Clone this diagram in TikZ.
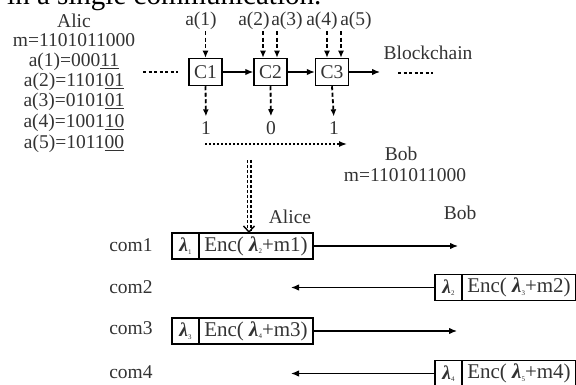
\documentclass[tikz,border=0pt]{standalone}
\usepackage{fontspec}
\setmainfont{Liberation Serif}
\usetikzlibrary{positioning, arrows.meta}
\newcommand{\lam}[1]{\textbf{\textit{λ}}\raisebox{-2.5pt}{\fontsize{7}{7}\selectfont #1}}

\begin{document}
\begin{tikzpicture}[
    x=1pt, y=-1pt,
    every node/.style={font=\fontsize{19.5}{21}\selectfont, text=black!80, inner sep=1pt},
    cbox/.style={rectangle, draw, line width=1.5pt, minimum width=33pt, minimum height=27pt, inner sep=0pt},
    lamcell/.style={rectangle, draw, line width=1.4pt, minimum width=27pt, minimum height=26pt, inner sep=0pt, outer sep=0pt},
    enccell/.style={rectangle, draw, line width=1.4pt, minimum width=114pt, minimum height=26pt, inner sep=0pt, outer sep=0pt, font=\fontsize{21}{22}\selectfont},
    arrow/.style={-{Latex[length=8pt,width=6.5pt]}, line width=1.3pt},
    dasharrow/.style={-{Latex[length=7pt,width=6pt]}, line width=1.8pt, dash pattern=on 4pt off 2.5pt},
    dotarrow/.style={-{Latex[length=8pt,width=6pt]}, line width=1.4pt, dash pattern=on 2pt off 2pt},
    dots/.style={line width=1.3pt, dash pattern=on 3pt off 2.5pt}
]
\clip (0,0) rectangle (576,385);

% Title (cut off)
\node[anchor=base west, font=\fontsize{29}{29}\selectfont, inner sep=0pt, text=black] (title) at (7,5) {in a single communication.};

% Alice side
\node (alic) at (74,21) {Alic};
\node (alicm) at (74,40) {m=1101011000};
\node (sa1) at (74,62) {a(1)=000\underline{11}};
\node (sa2) at (74,82) {a(2)=1101\underline{01}};
\node (sa3) at (74,102) {a(3)=0101\underline{01}};
\node (sa4) at (74,123) {a(4)=1001\underline{10}};
\node (sa5) at (74,144) {a(5)=1011\underline{00}};

% Chain
\node[cbox] (c1) at (205.5,72) {C1};
\node[cbox] (c2) at (270.5,72) {C2};
\node[cbox] (c3) at (332,72) {C3};
\coordinate (chainend) at (380,72);
\coordinate (lefta) at (143,72);
\coordinate (leftb) at (178,72);
\coordinate (righta) at (398,73);
\coordinate (rightb) at (433,73);
\node (chain) at (428,53) {Blockchain};

% Inputs
\node (a1) at (201,21) {a(1)};
\node (a2) at (254,21) {a(2)};
\node (a3) at (287,21) {a(3)};
\node (a4) at (322,21) {a(4)};
\node (a5) at (356,21) {a(5)};

% Outputs
\node (v1) at (206,128) {1};
\node (v2) at (271,128) {0};
\node (v3) at (334,128) {1};
\coordinate (dotstart) at (205,144);
\coordinate (dotend) at (347,144);
\node (bob) at (401,154) {Bob};
\node (bobm) at (405,175) {m=1101011000};

% Communications
\node (alice) at (290,217) {Alice};
\node (bob2) at (460,213) {Bob};
\node (com1) at (131,245) {com1};
\node (com2) at (131,287) {com2};
\node (com3) at (131,328) {com3};
\node (com4) at (131,372) {com4};

\node[lamcell] (lam1) at (185.5,246) {\lam{1}};
\node[enccell, right=0pt of lam1] (enc1) {Enc( \lam{2}+m1)};
\node[lamcell] (lam2) at (448.5,287.5) {\lam{2}};
\node[enccell, right=0pt of lam2] (enc2) {Enc( \lam{3}+m2)};
\node[lamcell] (lam3) at (185.5,331) {\lam{3}};
\node[enccell, right=0pt of lam3] (enc3) {Enc( \lam{4}+m3)};
\node[lamcell] (lam4) at (448.5,373.5) {\lam{4}};
\node[enccell, right=0pt of lam4] (enc4) {Enc( \lam{5}+m4)};

\coordinate (to1) at (458,246);
\coordinate (to2) at (291,287.5);
\coordinate (to3) at (457,331);
\coordinate (to4) at (291,373.5);
\coordinate (dblstart) at (249,160);

% Arrows
\draw[dots] (lefta) -- (leftb);
\draw[dots] (righta) -- (rightb);
\draw[arrow] (c1) -- (c2);
\draw[arrow] (c2) -- (c3);
\draw[arrow] (c3) -- (chainend);

\draw[dasharrow] (c1.north |- a1.south) -- (c1.north);
\draw[dasharrow] ([xshift=-7.5pt]c2.north |- a2.south) -- ([xshift=-7.5pt]c2.north);
\draw[dasharrow] ([xshift=6.5pt]c2.north |- a3.south) -- ([xshift=6.5pt]c2.north);
\draw[dasharrow] ([xshift=-5pt]c3.north |- a4.south) -- ([xshift=-5pt]c3.north);
\draw[dasharrow] ([xshift=9pt]c3.north |- a5.south) -- ([xshift=9pt]c3.north);

\draw[dasharrow, shorten >=4pt] (c1.south) -- (v1.north);
\draw[dasharrow, shorten >=4pt] (c2.south) -- (v2.north);
\draw[dasharrow, shorten >=4pt] (c3.south) -- (v3.north);
\draw[dotarrow] (dotstart) -- (dotend);

\draw[double distance=2.2pt, line width=1.4pt, dash pattern=on 3pt off 2pt, -{Straight Barb[length=6pt, width=11pt]}] (dblstart) -- (dblstart |- enc1.north);

\draw[arrow] (enc1) -- (to1);
\draw[arrow] (lam2) -- (to2);
\draw[arrow] (enc3) -- (to3);
\draw[arrow] (lam4) -- (to4);

\end{tikzpicture}
\end{document}
